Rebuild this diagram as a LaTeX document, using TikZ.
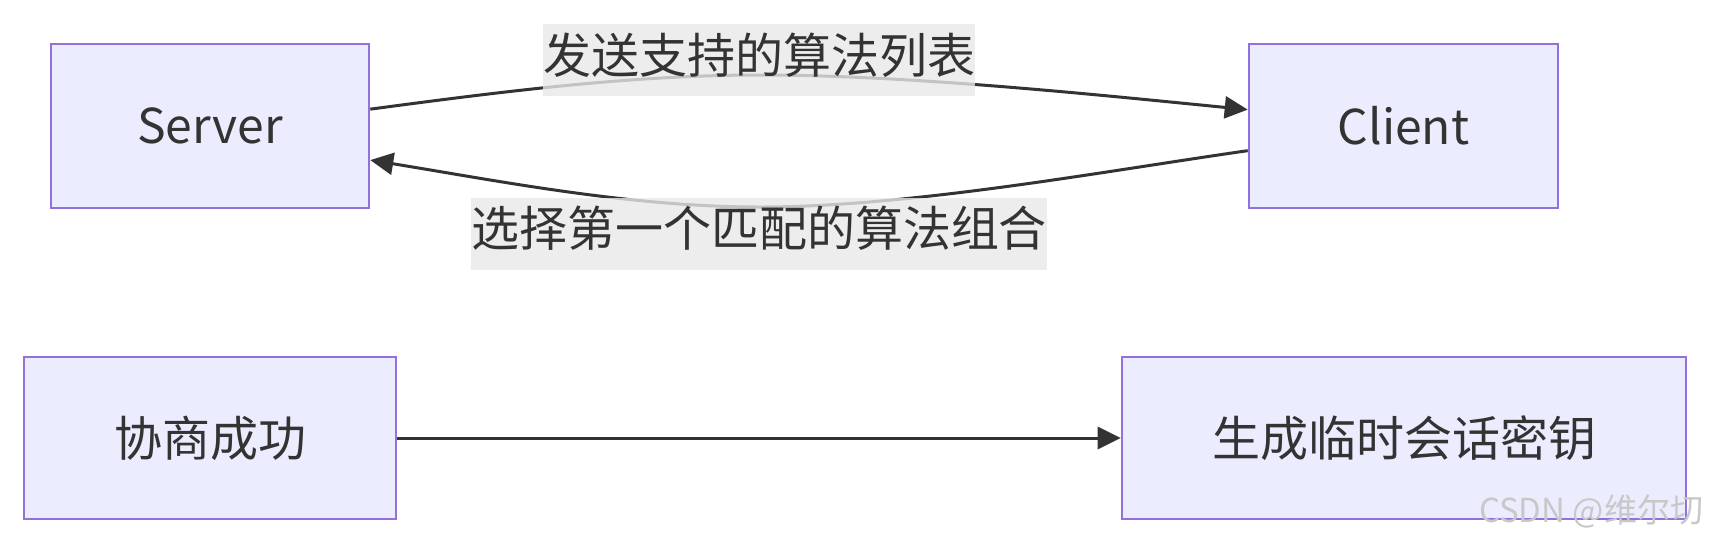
\documentclass[tikz,border=0pt]{standalone}
\usepackage{fontspec}
\setmainfont{Noto Sans CJK SC}
\usetikzlibrary{arrows.meta}
\definecolor{nodefill}{HTML}{ECECFF}
\definecolor{nodeborder}{HTML}{9370DB}
\definecolor{ink}{HTML}{333333}
\definecolor{lblbg}{HTML}{E8E8E8}
\definecolor{wmark}{HTML}{C8C8C8}
\begin{document}
\begin{tikzpicture}[x=0.5pt,y=-0.5pt,
  box/.style={draw=nodeborder, fill=nodefill, line width=1.3pt, inner sep=0pt,
    text=ink, font=\fontsize{24}{28}\selectfont},
  edge/.style={draw=ink, line width=1.5pt, -{Triangle[length=11.5pt,width=11pt]}},
  lbl/.style={fill=lblbg, fill opacity=0.8, text opacity=1, text=ink, inner sep=0pt,
    minimum height=36pt, text height=21pt, text depth=8pt,
    font=\fontsize{24}{28}\selectfont}
]
\useasboundingbox (0,0) rectangle (1710,543);

\node[box, minimum width=159pt, minimum height=82pt] (S) at (210,126) {Server};
\node[box, minimum width=154.5pt, minimum height=82pt] (C) at (1403.5,126) {Client};
\node[box, minimum width=186pt, minimum height=81pt] (N) at (210,438) {协商成功};
\node[box, minimum width=282pt, minimum height=81pt] (K) at (1404,438) {生成临时会话密钥};

\draw[edge] (S.6.8) .. controls (499,92) and (630,75) .. (760,75)
  .. controls (910,75) and (1099,95) .. (C.174.1);
\draw[edge] (C.189.55) .. controls (1099,172) and (910,207) .. (760,207)
  .. controls (630,207) and (499,181) .. (S.348.3);
\draw[edge] (N) -- (K);

\node[lbl] (L1) at (759,60) {发送支持的算法列表};
\node[lbl] (L2) at (759,233.5) {选择第一个匹配的算法组合};

\node[text=wmark, inner sep=0pt, font=\fontsize{16.5}{20}\selectfont] (W) at (1591,511) {CSDN @维尔切};
\end{tikzpicture}
\end{document}
